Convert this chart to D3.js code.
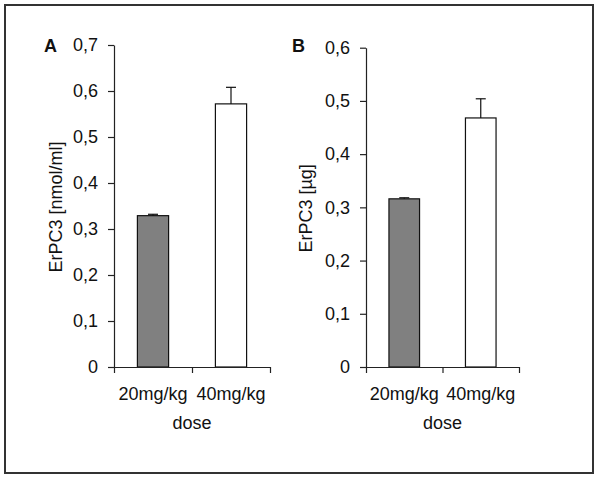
<!DOCTYPE html>
<html>
<head>
<meta charset="utf-8">
<script src="https://cdn.jsdelivr.net/npm/d3@7"></script>
<style>
  body { margin: 0; background: #fff; }
  text { font-family: "Liberation Sans", Arial, sans-serif; fill: #111; }
</style>
</head>
<body>
<div id="wrapper"></div>
<script>
// data
const doses = ["20mg/kg", "40mg/kg"];
const panelLabels = ["A", "B"];
const yTitles = ["ErPC3 [nmol/ml]", "ErPC3 [µg]"];
const meansA = [0.329, 0.572];
const errorsA = [0.003, 0.036];
const meansB = [0.316, 0.468];
const errorsB = [0.002, 0.036];
const yTicksA = [0, 0.1, 0.2, 0.3, 0.4, 0.5, 0.6, 0.7];
const yTicksB = [0, 0.1, 0.2, 0.3, 0.4, 0.5, 0.6];
const barColors = ["#808080", "#ffffff"];

const width = 600, height = 479;

const wrapper = d3.select("#wrapper")
    .append("svg")
    .attr("width", width)
    .attr("height", height);

// outer frame
wrapper.append("rect")
    .attr("x", 5).attr("y", 5)
    .attr("width", 588).attr("height", 468)
    .attr("fill", "none")
    .attr("stroke", "#333")
    .attr("stroke-width", 2);

const fmt = d => d === 0 ? "0" : d.toFixed(1).replace(".", ",");

function drawPanel(opts) {
    const { left, right, top, bottom, yMax, ticks, means, errors, label, title, titleX, labelX } = opts;

    const yScale = d3.scaleLinear()
        .domain([0, yMax])
        .range([bottom, top]);

    const xScale = d3.scaleBand()
        .domain(doses)
        .range([left, right])
        .paddingInner(0.6)
        .paddingOuter(0.3);

    // x axis ticks sit at category boundaries
    const xEdge = d3.scaleLinear()
        .domain([0, doses.length])
        .range([left, right]);

    const g = wrapper.append("g");

    // bars
    g.selectAll(".bar")
        .data(means)
        .join("rect")
        .attr("x", (d, i) => xScale(doses[i]))
        .attr("y", d => yScale(d))
        .attr("width", xScale.bandwidth())
        .attr("height", d => yScale(0) - yScale(d))
        .attr("fill", (d, i) => barColors[i])
        .attr("stroke", "#111")
        .attr("stroke-width", 1.2);

    // error bars (upper only)
    means.forEach((m, i) => {
        const cx = xScale(doses[i]) + xScale.bandwidth() / 2;
        g.append("line")
            .attr("x1", cx).attr("x2", cx)
            .attr("y1", yScale(m)).attr("y2", yScale(m + errors[i]))
            .attr("stroke", "#111").attr("stroke-width", 1.2);
        g.append("line")
            .attr("x1", cx - 5).attr("x2", cx + 5)
            .attr("y1", yScale(m + errors[i])).attr("y2", yScale(m + errors[i]))
            .attr("stroke", "#111").attr("stroke-width", 1.2);
    });

    // y axis
    const yAxis = g.append("g")
        .attr("transform", `translate(${left},0)`)
        .call(d3.axisLeft(yScale).tickValues(ticks).tickFormat(fmt).tickSize(6).tickPadding(10).tickSizeOuter(0));
    yAxis.selectAll("text").style("font-size", "18px");

    // x axis
    const xAxis = g.append("g")
        .attr("transform", `translate(0,${bottom})`)
        .call(d3.axisBottom(xEdge).tickValues(d3.range(doses.length + 1)).tickFormat("").tickSize(6).tickSizeOuter(0));

    [yAxis, xAxis].forEach(a => {
        a.select(".domain").attr("stroke", "#222").attr("stroke-width", 1.2);
        a.selectAll(".tick line").attr("stroke", "#222").attr("stroke-width", 1.2);
    });

    // category labels
    g.selectAll(".cat")
        .data(doses)
        .join("text")
        .attr("x", d => xScale(d) + xScale.bandwidth() / 2)
        .attr("y", bottom + 33)
        .attr("text-anchor", "middle")
        .style("font-size", "18px")
        .text(d => d);

    g.append("text")
        .attr("x", (left + right) / 2)
        .attr("y", bottom + 62)
        .attr("text-anchor", "middle")
        .style("font-size", "18px")
        .text("dose");

    // y title
    g.append("text")
        .attr("transform", `translate(${titleX},${(top + bottom) / 2 + 1}) rotate(-90)`)
        .attr("text-anchor", "middle")
        .style("font-size", "18px")
        .text(title);

    // panel letter
    g.append("text")
        .attr("x", labelX)
        .attr("y", 52)
        .style("font-size", "18px")
        .style("font-weight", "bold")
        .text(label);
}

drawPanel({
    left: 114, right: 270, top: 45, bottom: 367, yMax: 0.7,
    ticks: yTicksA, means: meansA, errors: errorsA,
    label: panelLabels[0], title: yTitles[0], titleX: 62, labelX: 44
});

drawPanel({
    left: 366, right: 519, top: 47.7, bottom: 367, yMax: 0.6,
    ticks: yTicksB, means: meansB, errors: errorsB,
    label: panelLabels[1], title: yTitles[1], titleX: 312, labelX: 292
});
</script>
</body>
</html>
